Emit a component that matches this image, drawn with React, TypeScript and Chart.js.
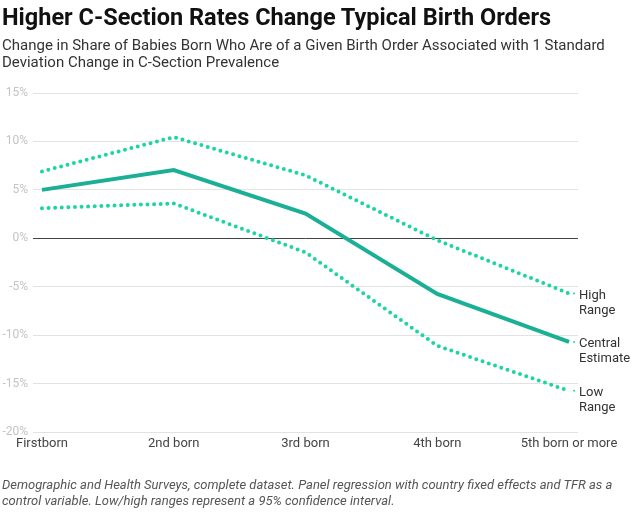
import React, { useEffect, useRef } from 'react';
import { Chart, registerables } from 'chart.js';

Chart.register(...registerables);

const categories = ['Firstborn', '2nd born', '3rd born', '4th born', '5th born or more'];
const centralEstimate = [5.0, 7.05, 2.55, -5.75, -10.7];
const highRange = [6.9, 10.45, 6.5, -0.2, -5.7];
const lowRange = [3.1, 3.6, -1.45, -11.1, -15.75];
const yTicks = [-20, -15, -10, -5, 0, 5, 10, 15];
const seriesNames = ['High Range', 'Central Estimate', 'Low Range'];

const DOT_COLOR = '#1DD5A3';
const CENTRAL_COLOR = '#1BAF95';
const FONT = 'Roboto, "Noto Sans", sans-serif';

const toPoints = (arr: number[]) => arr.map((v, i) => ({ x: i, y: v }));

const endLabels = {
  id: 'endLabels',
  afterDatasetsDraw(chart: any) {
    const ctx = chart.ctx;
    ctx.save();
    ctx.font = `13px ${FONT}`;
    ctx.textAlign = 'left';
    ctx.textBaseline = 'middle';
    chart.data.datasets.forEach((ds: any, i: number) => {
      const meta = chart.getDatasetMeta(i);
      const last = meta.data[meta.data.length - 1];
      if (!last) return;
      const lines = String(ds.label).split(' ');
      ctx.beginPath();
      ctx.fillStyle = DOT_COLOR;
      ctx.arc(last.x + 5, last.y, 1, 0, Math.PI * 2);
      ctx.fill();
      ctx.fillStyle = '#333';
      const x = chart.chartArea.right + 1;
      lines.forEach((t: string, k: number) => {
        ctx.fillText(t, x, last.y + 2 + k * 15);
      });
    });
    ctx.restore();
  },
};

export default function App() {
  const ref = useRef<HTMLCanvasElement | null>(null);

  useEffect(() => {
    document.body.style.margin = '0';
    if (!ref.current) return;
    const chart = new Chart(ref.current, {
      type: 'line',
      data: {
        datasets: [
          {
            label: seriesNames[0],
            data: toPoints(highRange),
            borderColor: DOT_COLOR,
            borderWidth: 4,
            borderDash: [0, 6.6],
            borderCapStyle: 'round',
            pointRadius: 0,
            tension: 0,
          },
          {
            label: seriesNames[1],
            data: toPoints(centralEstimate),
            borderColor: CENTRAL_COLOR,
            borderWidth: 4,
            pointRadius: 0,
            tension: 0,
          },
          {
            label: seriesNames[2],
            data: toPoints(lowRange),
            borderColor: DOT_COLOR,
            borderWidth: 4,
            borderDash: [0, 6.6],
            borderCapStyle: 'round',
            pointRadius: 0,
            tension: 0,
          },
        ],
      },
      options: {
        animation: false,
        responsive: false,
        maintainAspectRatio: false,
        layout: { padding: { top: 93, right: 62, bottom: 62, left: 0 } },
        plugins: {
          legend: { display: false },
          tooltip: { enabled: false },
        },
        scales: {
          x: {
            type: 'linear',
            min: -0.068,
            max: 4.068,
            afterBuildTicks: (scale: any) => {
              scale.ticks = categories.map((_, i) => ({ value: i }));
            },
            afterFit: (scale: any) => {
              scale.height = 20;
            },
            grid: { display: false, drawTicks: false },
            border: { display: false },
            ticks: {
              autoSkip: false,
              maxRotation: 0,
              padding: 4,
              color: '#444',
              font: { family: FONT, size: 13 },
              callback: (v: any) => categories[Math.round(Number(v))] ?? '',
            },
          },
          y: {
            type: 'linear',
            min: -20,
            max: 15,
            afterBuildTicks: (scale: any) => {
              scale.ticks = yTicks.map((v) => ({ value: v }));
            },
            afterFit: (scale: any) => {
              scale.width = 33;
            },
            grid: {
              drawTicks: false,
              color: (c: any) => (c.tick && c.tick.value === 0 ? '#444' : '#e2e2e2'),
              lineWidth: 1,
            },
            border: { display: false },
            ticks: {
              padding: 5,
              color: '#c4c4c4',
              font: { family: FONT, size: 12 },
              callback: (v: any) => `${v}%`,
            },
          },
        },
      },
      plugins: [endLabels],
    } as any);
    return () => chart.destroy();
  }, []);

  return (
    <div style={{ position: 'relative', width: 640, height: 514, fontFamily: FONT, overflow: 'hidden' }}>
      <canvas ref={ref} width={640} height={514} style={{ position: 'absolute', left: 0, top: 0 }} />
      <div style={{ position: 'absolute', left: 2, top: 2, fontSize: 23.5, fontWeight: 700, color: '#111', whiteSpace: 'nowrap', lineHeight: '30px' }}>
        Higher C-Section Rates Change Typical Birth Orders
      </div>
      <div style={{ position: 'absolute', left: 2, top: 37, width: 630, fontSize: 15, color: '#333', lineHeight: '17px' }}>
        Change in Share of Babies Born Who Are of a Given Birth Order Associated with 1 Standard Deviation Change in C-Section Prevalence
      </div>
      <div style={{ position: 'absolute', left: 2, top: 477, width: 630, fontSize: 13, fontStyle: 'italic', color: '#555', lineHeight: '16px' }}>
        Demographic and Health Surveys, complete dataset. Panel regression with country fixed effects and TFR as a control variable. Low/high ranges represent a 95% confidence interval.
      </div>
    </div>
  );
}
